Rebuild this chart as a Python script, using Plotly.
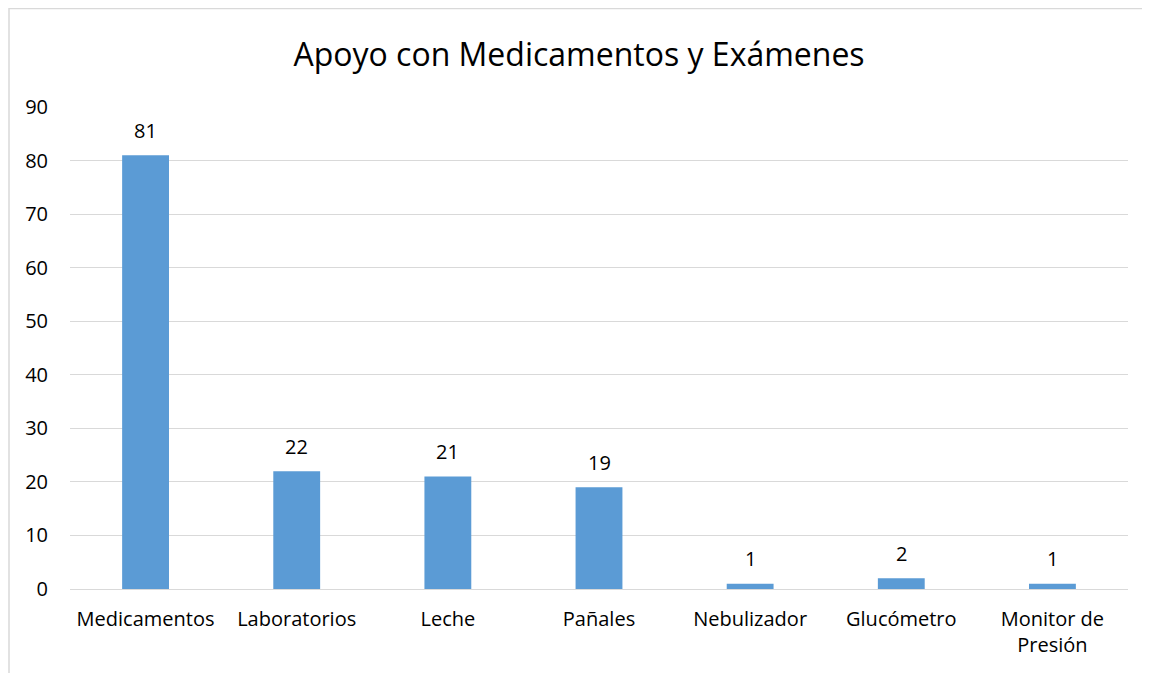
import plotly.graph_objects as go

categorias = ["Medicamentos", "Laboratorios", "Leche", "Pañales", "Nebulizador",
              "Glucómetro", "Monitor de<br>Presión"]
valores = [81, 22, 21, 19, 1, 2, 1]
ticks_y = [0, 10, 20, 30, 40, 50, 60, 70, 80, 90]

fuente = "Open Sans"

fig = go.Figure()
fig.add_trace(go.Bar(
    x=categorias,
    y=valores,
    marker=dict(color="#5b9bd5", line=dict(width=0)),
    width=0.31,
    hoverinfo="x+y",
))

# etiquetas de datos sobre las barras
for c, v in zip(categorias, valores):
    fig.add_annotation(x=c, y=v, text=str(v), showarrow=False,
                       yshift=25, font=dict(family=fuente, size=20, color="#000000"))

# la pagina tiene 8px de margen en el body, por eso 1142x665
fig.update_layout(
    width=1142,
    height=665,
    margin=dict(l=62, r=22, t=99, b=84),
    paper_bgcolor="white",
    plot_bgcolor="white",
    showlegend=False,
    title=dict(text="Apoyo con Medicamentos y Exámenes", x=0.5, xanchor="center",
               y=1 - 47 / 665, yanchor="middle",
               font=dict(family=fuente, size=32, color="#000000")),
    font=dict(family=fuente, size=20, color="#000000"),
    shapes=[dict(type="rect", xref="paper", yref="paper",
                 x0=-61 / 1058, x1=1.2, y0=-0.4, y1=1 + 98.5 / 482,
                 line=dict(color="#d9d9d9", width=1.5), layer="below")],
)

fig.update_xaxes(showgrid=False, showline=False, ticks="", tickfont=dict(size=20),
                 ticklabelstandoff=16)
fig.update_yaxes(range=[0, 90], tickvals=ticks_y, showgrid=True, gridcolor="#d9d9d9",
                 gridwidth=1.3, zeroline=True, zerolinecolor="#d9d9d9", zerolinewidth=1.3,
                 showline=False, ticks="", tickfont=dict(size=20), ticklabelstandoff=21)

fig.write_html("out.html")
